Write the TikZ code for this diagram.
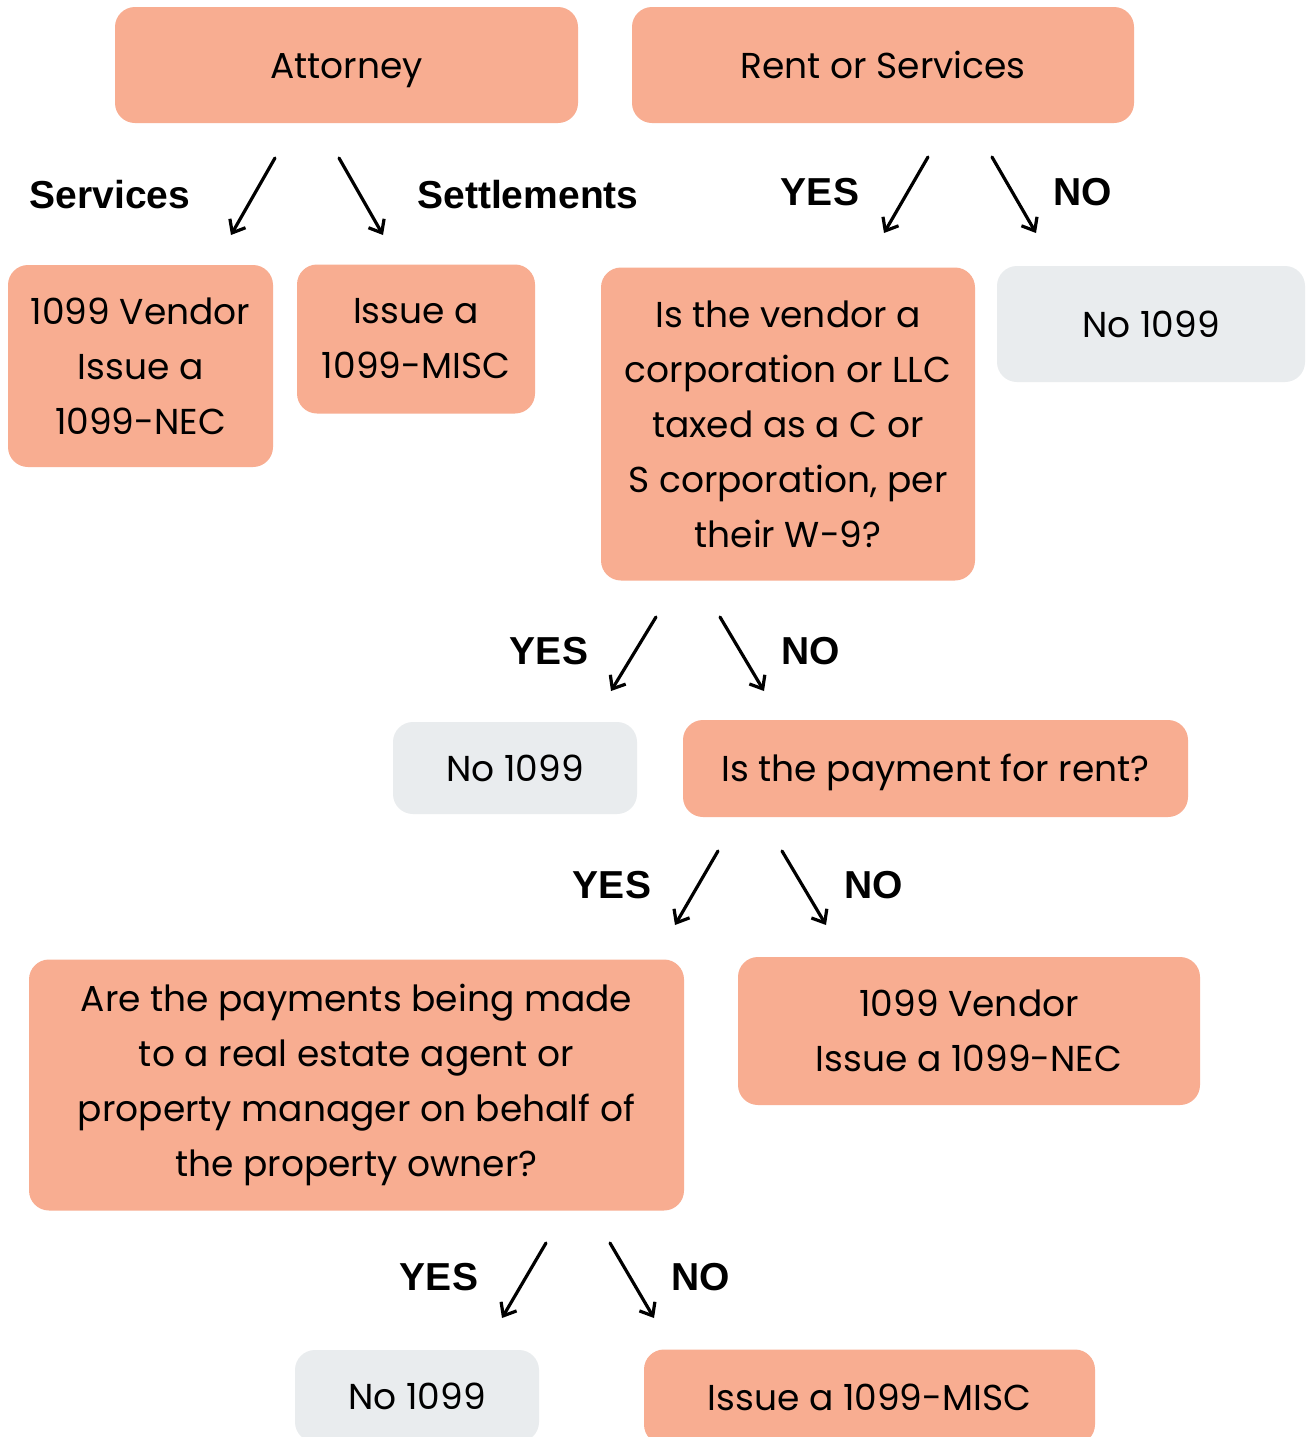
\documentclass[tikz,border=0pt]{standalone}
\usepackage{fontspec}
\setmainfont{Poppins}
\newfontfamily\lblface{Liberation Sans}
\usetikzlibrary{arrows.meta}
\definecolor{peach}{HTML}{F8AD91}
\definecolor{greybox}{HTML}{E9ECEE}
\tikzset{
  box/.style={rounded corners=10pt, fill=peach, align=center, inner sep=0pt,
    font=\fontsize{18}{27.5}\selectfont},
  nobox/.style={box, fill=greybox},
  oneline/.style={text height=15pt, text depth=2pt},
  lbl/.style={font=\lblface\bfseries\fontsize{19.5}{22}\selectfont},
  arr/.style={line width=1.6pt, line cap=round, -{Straight Barb[length=5.5pt,width=9pt]}}
}
\begin{document}
\begin{tikzpicture}[x=0.5pt,y=-0.5pt]
\clip (0,0) rectangle (1312,1437);
\fill[white] (0,0) rectangle (1312,1437);
\node [box, oneline, minimum width=231.5pt, minimum height=58pt] (att) at (346.5,65) {Attorney};
\node [box, oneline, minimum width=251pt, minimum height=58pt] (rent) at (883,65) {Rent or Services};
\node [box, minimum width=132.5pt, minimum height=101pt] (nec1) at (140.5,366) {1099 Vendor\\Issue a\\1099-NEC};
\node [box, minimum width=119pt, minimum height=74.5pt] (misc1) at (416,339) {Issue a\\1099-MISC};
\node [box, minimum width=187pt, minimum height=156.5pt] (corp) at (788,424) {Is the vendor a\\corporation or LLC\\taxed as a C or\\S corporation, per\\their W-9?};
\node [nobox, oneline, minimum width=154pt, minimum height=58pt] (no1) at (1151,324) {No 1099};
\node [nobox, oneline, minimum width=122pt, minimum height=46pt] (no2) at (515,768) {No 1099};
\node [box, oneline, minimum width=252.5pt, minimum height=48.5pt] (pay) at (935.5,768.5) {Is the payment for rent?};
\node [box, minimum width=327.5pt, minimum height=125.5pt] (agent) at (356.5,1085) {Are the payments being made\\to a real estate agent or\\property manager on behalf of\\the property owner?};
\node [box, minimum width=231pt, minimum height=74pt] (nec2) at (969,1031) {1099 Vendor\\Issue a 1099-NEC};
\node [nobox, oneline, minimum width=122pt, minimum height=46pt] (no3) at (417,1396) {No 1099};
\node [box, oneline, minimum width=225.5pt, minimum height=47.5pt] (misc2) at (869.5,1397) {Issue a 1099-MISC};
\node [lbl] (lserv) at (110,195) {Services};
\node [lbl] (lsett) at (528,195) {Settlements};
\node [lbl] (lyes1) at (820,192) {YES};
\node [lbl] (lno1) at (1083,192) {NO};
\node [lbl] (lyes2) at (549,651) {YES};
\node [lbl] (lno2) at (811,651) {NO};
\node [lbl] (lyes3) at (612,885) {YES};
\node [lbl] (lno3) at (874,885) {NO};
\node [lbl] (lyes4) at (439,1277) {YES};
\node [lbl] (lno4) at (701,1277) {NO};
\coordinate (a1) at (275,158); \coordinate (a1e) at (231,235);
\coordinate (a2) at (339,158); \coordinate (a2e) at (383,235);
\coordinate (r1) at (928,157); \coordinate (r1e) at (884,233);
\coordinate (r2) at (992,157); \coordinate (r2e) at (1036,233);
\coordinate (c1) at (656,617); \coordinate (c1e) at (611,691);
\coordinate (c2) at (720,617); \coordinate (c2e) at (764,691);
\coordinate (p1) at (718,851); \coordinate (p1e) at (675,925);
\coordinate (p2) at (782,851); \coordinate (p2e) at (826,925);
\coordinate (g1) at (546,1243); \coordinate (g1e) at (502,1318);
\coordinate (g2) at (610,1243); \coordinate (g2e) at (654,1318);
\draw [arr] (a1) -- (a1e);
\draw [arr] (a2) -- (a2e);
\draw [arr] (r1) -- (r1e);
\draw [arr] (r2) -- (r2e);
\draw [arr] (c1) -- (c1e);
\draw [arr] (c2) -- (c2e);
\draw [arr] (p1) -- (p1e);
\draw [arr] (p2) -- (p2e);
\draw [arr] (g1) -- (g1e);
\draw [arr] (g2) -- (g2e);
\end{tikzpicture}
\end{document}
